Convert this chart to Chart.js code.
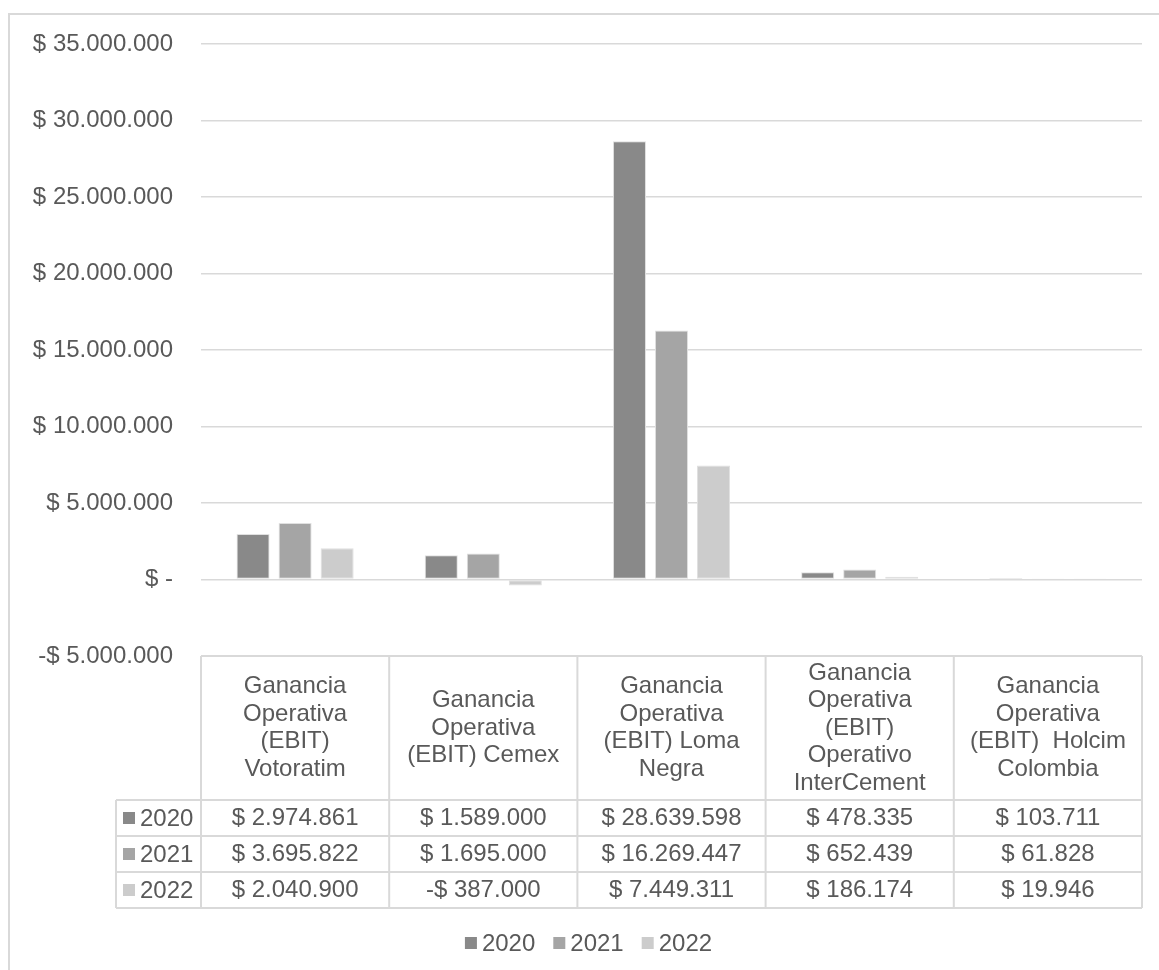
<!DOCTYPE html>
<html>
<head>
<meta charset="utf-8">
<script src="https://cdn.jsdelivr.net/npm/chart.js@4.4.1/dist/chart.umd.min.js"></script>
<style>
  html, body { margin: 0; padding: 0; background: #fff; }
  canvas { display: block; }
</style>
</head>
<body>
<canvas id="c" width="1159" height="970"></canvas>
<script>
// ─── Data ─────────────────────────────────────────────────────────────────────

const categories = [
  ['Ganancia', 'Operativa', '(EBIT)', 'Votoratim'],
  ['Ganancia', 'Operativa', '(EBIT) Cemex'],
  ['Ganancia', 'Operativa', '(EBIT) Loma', 'Negra'],
  ['Ganancia', 'Operativa', '(EBIT)', 'Operativo', 'InterCement'],
  ['Ganancia', 'Operativa', '(EBIT)  Holcim', 'Colombia'],
];
const years = ['2020', '2021', '2022'];
const values2020 = [2974861, 1589000, 28639598, 478335, 103711];
const values2021 = [3695822, 1695000, 16269447, 652439, 61828];
const values2022 = [2040900, -387000, 7449311, 186174, 19946];
const yearColors = ['#898989', '#a5a5a5', '#cccccc'];

// ─── Style ────────────────────────────────────────────────────────────────────

const FONT = '"Liberation Sans", Arial, sans-serif';
const FSIZE = 24;
const TEXT = '#595959';
const LINE = '#d9d9d9';

const fmt = v => (v < 0 ? '-$ ' : '$ ') + Math.abs(v).toString().replace(/\B(?=(\d{3})+(?!\d))/g, '.');

// data table + legend under the plot, Excel style
const dataTable = {
  id: 'dataTable',
  beforeDraw(chart) {
    const ctx = chart.ctx;
    ctx.save();
    ctx.strokeStyle = LINE;
    ctx.lineWidth = 2;
    ctx.beginPath();
    ctx.moveTo(9, 970);
    ctx.lineTo(9, 14);
    ctx.lineTo(1159, 14);
    ctx.stroke();
    ctx.restore();
  },
  afterDraw(chart) {
    const { ctx, chartArea: a } = chart;
    const n = chart.data.labels.length;
    const colW = (a.right - a.left) / n;
    const top = a.bottom;
    const headBottom = top + 144;
    const rowH = 36;
    const labelLeft = 116;
    const bottom = headBottom + rowH * chart.data.datasets.length;

    ctx.save();
    ctx.strokeStyle = LINE;
    ctx.lineWidth = 2;
    ctx.beginPath();
    ctx.moveTo(a.left, top); ctx.lineTo(a.right, top);
    for (let r = 0; r <= chart.data.datasets.length; r++) {
      const y = headBottom + r * rowH;
      ctx.moveTo(labelLeft, y); ctx.lineTo(a.right, y);
    }
    for (let i = 0; i <= n; i++) {
      const x = a.left + i * colW;
      ctx.moveTo(x, top); ctx.lineTo(x, bottom);
    }
    ctx.moveTo(labelLeft, headBottom); ctx.lineTo(labelLeft, bottom);
    ctx.stroke();

    ctx.fillStyle = TEXT;
    ctx.font = `${FSIZE}px ${FONT}`;
    ctx.textAlign = 'center';
    ctx.textBaseline = 'middle';

    // header: category names
    const lh = 27.5;
    const midHead = (top + headBottom) / 2;
    chart.data.labels.forEach((lines, i) => {
      const cx = a.left + (i + 0.5) * colW;
      const y0 = midHead - (lines.length - 1) * lh / 2;
      lines.forEach((t, k) => ctx.fillText(t, cx, y0 + k * lh));
    });

    // rows: values per year
    chart.data.datasets.forEach((ds, r) => {
      const cy = headBottom + (r + 0.5) * rowH;
      ds.data.forEach((v, i) => {
        ctx.textAlign = 'center';
        ctx.fillStyle = TEXT;
        ctx.fillText(fmt(v), a.left + (i + 0.5) * colW, cy);
      });
      ctx.fillStyle = ds.backgroundColor;
      ctx.fillRect(labelLeft + 7, cy - 6, 12, 12);
      ctx.fillStyle = TEXT;
      ctx.textAlign = 'left';
      ctx.fillText(ds.label, labelLeft + 24, cy + 1);
    });

    // legend
    const ly = 943;
    const widths = chart.data.datasets.map(ds => 16 + ctx.measureText(ds.label).width);
    const gap = 19;
    const total = widths.reduce((s, w) => s + w, 0) + gap * (widths.length - 1);
    let x = 588 - total / 2;
    chart.data.datasets.forEach((ds, r) => {
      ctx.fillStyle = ds.backgroundColor;
      ctx.fillRect(x, ly - 6, 12, 12);
      ctx.fillStyle = TEXT;
      ctx.textAlign = 'left';
      ctx.fillText(ds.label, x + 17, ly + 1);
      x += widths[r] + gap;
    });
    ctx.restore();
  },
};

const seriesValues = [values2020, values2021, values2022];

new Chart(document.getElementById('c'), {
  type: 'bar',
  data: {
    labels: categories,
    datasets: years.map((y, i) => ({
      label: y,
      data: seriesValues[i],
      backgroundColor: yearColors[i],
      borderColor: '#e0e0e0',
      borderWidth: 1,
      borderSkipped: false,
      categoryPercentage: 0.67,
      barPercentage: 0.786,
    })),
  },
  options: {
    responsive: false,
    animation: false,
    layout: { padding: { left: 0, top: 44, right: 17, bottom: 314 } },
    scales: {
      x: { display: false },
      y: {
        min: -5000000,
        max: 35000000,
        afterFit: s => { s.width = 201; },
        ticks: {
          stepSize: 5000000,
          padding: 28,
          color: TEXT,
          font: { family: FONT, size: FSIZE },
          callback: v => v === 0 ? '$ -' : fmt(v),
        },
        grid: { color: LINE, lineWidth: 1.5, drawTicks: false },
        border: { display: false },
      },
    },
    plugins: {
      legend: { display: false },
      tooltip: { enabled: false },
    },
  },
  plugins: [dataTable],
});
</script>
</body>
</html>
